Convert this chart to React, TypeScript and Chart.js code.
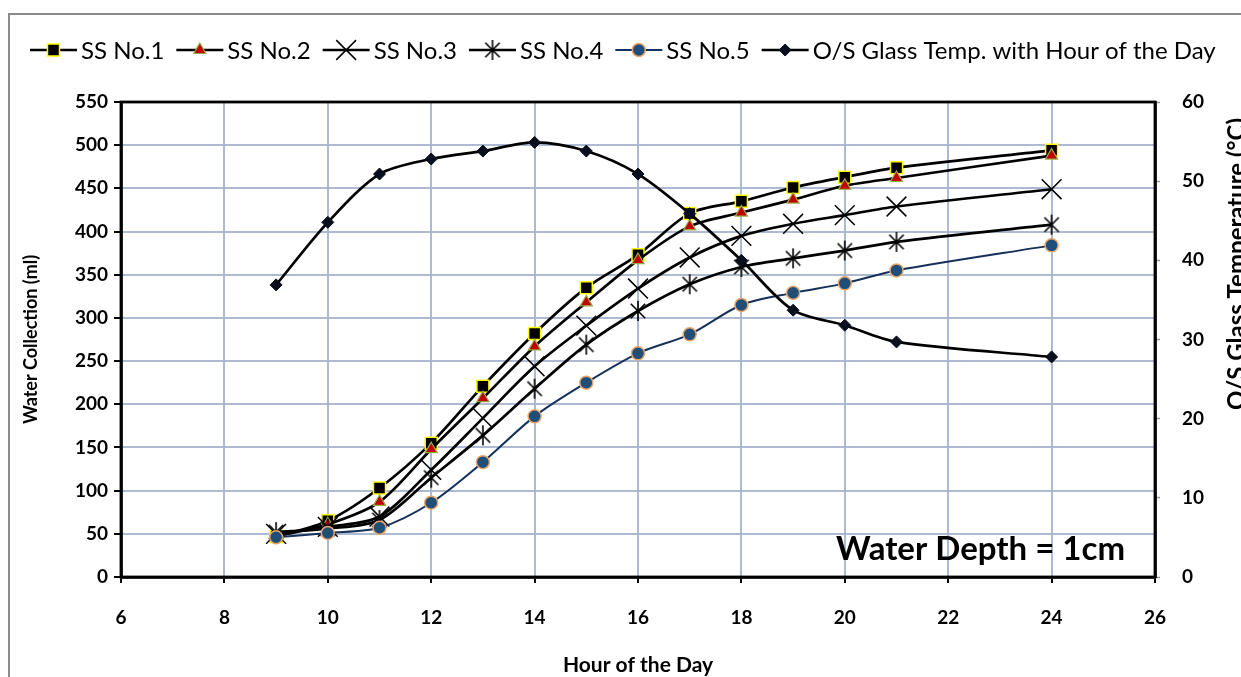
import React, { useEffect, useRef } from "react";
import { Chart, registerables } from "chart.js";
import { drawPoint } from "chart.js/helpers";

Chart.register(...registerables);

// Hour of the day at which each reading was taken
const hours = [9, 10, 11, 12, 13, 14, 15, 16, 17, 18, 19, 20, 21, 24];

// Cumulative water collected by each still (ml)
const ssNo1 = [47, 65, 103, 155, 221, 282, 335, 373, 421, 435, 451, 463, 474, 494];
const ssNo2 = [47, 61, 87, 148, 207, 267, 318, 367, 406, 422, 437, 453, 462, 488];
const ssNo3 = [50, 58, 70, 124, 184, 244, 291, 334, 370, 395, 409, 419, 429, 449];
const ssNo4 = [52, 56, 66, 115, 164, 218, 269, 308, 339, 359, 369, 378, 388, 408];
const ssNo5 = [46, 51, 57, 86, 133, 186, 225, 259, 281, 315, 329, 340, 355, 384];

// Outside glass temperature (°C)
const glassTemp = [36.9, 44.8, 50.9, 52.8, 53.8, 54.9, 53.8, 50.9, 45.9, 40.0, 33.7, 31.8, 29.7, 27.8];

const seriesLabels = [
  "SS No.1",
  "SS No.2",
  "SS No.3",
  "SS No.4",
  "SS No.5",
  "O/S Glass Temp. with Hour of the Day",
];

const hourRange = [6, 26, 2];
const waterRange = [0, 550, 50];
const tempRange = [0, 60, 10];

const xTitle = "Hour of the Day";
const yTitle = "Water Collection (ml)";
const y2Title = "O/S Glass Temperature (°C)";
const noteText = "Water Depth = 1cm";

const FONT = "Lato, 'Open Sans', sans-serif";
const GRID = "rgba(165,178,204,0.9)";

// Excel-style "star" marker: an X with a vertical stroke
function asteriskMarker(size: number): HTMLCanvasElement {
  const c = document.createElement("canvas");
  c.width = size;
  c.height = size;
  const g = c.getContext("2d")!;
  g.strokeStyle = "#000";
  g.lineWidth = 1.6;
  const m = size / 2;
  const r = size / 2 - 1;
  const d = r * 0.72;
  g.beginPath();
  g.moveTo(m - d, m - d);
  g.lineTo(m + d, m + d);
  g.moveTo(m + d, m - d);
  g.lineTo(m - d, m + d);
  g.moveTo(m, m - r);
  g.lineTo(m, m + r);
  g.stroke();
  return c;
}

type Marker = {
  pointStyle: any;
  radius: number;
  fill: string;
  stroke: string;
  borderWidth: number;
  line: string;
  lineWidth: number;
};

function makeMarkers(): Marker[] {
  return [
    { pointStyle: "rect", radius: 8.5, fill: "#000", stroke: "#ffff00", borderWidth: 1.5, line: "#000", lineWidth: 2.7 },
    { pointStyle: "triangle", radius: 7, fill: "#c00000", stroke: "#9bab4a", borderWidth: 1.2, line: "#000", lineWidth: 2.7 },
    { pointStyle: "crossRot", radius: 14, fill: "#000", stroke: "#000", borderWidth: 1.5, line: "#000", lineWidth: 2.7 },
    { pointStyle: asteriskMarker(22), radius: 10, fill: "#000", stroke: "#000", borderWidth: 1.5, line: "#000", lineWidth: 2.7 },
    { pointStyle: "circle", radius: 6.5, fill: "#1f4e79", stroke: "#e8a46a", borderWidth: 1.5, line: "#15305a", lineWidth: 2 },
    { pointStyle: "rectRot", radius: 6, fill: "#0a0f1e", stroke: "#0a0f1e", borderWidth: 1, line: "#000", lineWidth: 2.7 },
  ];
}

export default function App() {
  const canvasRef = useRef<HTMLCanvasElement | null>(null);

  useEffect(() => {
    const canvas = canvasRef.current;
    if (!canvas) return;
    const markers = makeMarkers();
    const waterSeries = [ssNo1, ssNo2, ssNo3, ssNo4, ssNo5];

    const datasets: any[] = waterSeries.map((vals, i) => {
      const m = markers[i];
      return {
        label: seriesLabels[i],
        data: hours.map((h, k) => ({ x: h, y: vals[k] })),
        yAxisID: "y",
        borderColor: m.line,
        borderWidth: m.lineWidth,
        tension: 0.3,
        pointStyle: m.pointStyle,
        pointRadius: m.radius,
        pointBackgroundColor: m.fill,
        pointBorderColor: m.stroke,
        pointBorderWidth: m.borderWidth,
        order: 6 - i,
      };
    });
    const tm = markers[5];
    datasets.push({
      label: seriesLabels[5],
      data: hours.map((h, k) => ({ x: h, y: glassTemp[k] })),
      yAxisID: "y1",
      borderColor: tm.line,
      borderWidth: tm.lineWidth,
      tension: 0.3,
      pointStyle: tm.pointStyle,
      pointRadius: tm.radius,
      pointBackgroundColor: tm.fill,
      pointBorderColor: tm.stroke,
      pointBorderWidth: tm.borderWidth,
      order: 0,
    });

    const decorations = {
      id: "decorations",
      beforeDraw(chart: any) {
        const ctx = chart.ctx;
        ctx.save();
        ctx.fillStyle = "#fff";
        ctx.fillRect(0, 0, chart.width, chart.height);
        ctx.restore();
      },
      afterDatasetsDraw(chart: any) {
        const ctx = chart.ctx as CanvasRenderingContext2D;
        const a = chart.chartArea;
        ctx.save();
        // plot frame
        ctx.strokeStyle = "#000";
        ctx.lineWidth = 2.8;
        ctx.strokeRect(a.left, a.top, a.right - a.left, a.bottom - a.top);

        // note inside the plot
        ctx.fillStyle = "#000";
        ctx.font = `bold 33px ${FONT}`;
        ctx.textAlign = "left";
        ctx.textBaseline = "alphabetic";
        ctx.fillText(noteText, 836, 560);

        // axis titles
        ctx.font = `bold 21px ${FONT}`;
        ctx.textAlign = "center";
        ctx.textBaseline = "middle";
        ctx.fillText(xTitle, 638, 665);

        ctx.save();
        ctx.translate(31, (a.top + a.bottom) / 2);
        ctx.rotate(-Math.PI / 2);
        ctx.font = `bold 18px ${FONT}`;
        ctx.fillText(yTitle, 0, 0);
        ctx.restore();

        ctx.save();
        ctx.translate(1245, 264);
        ctx.rotate(-Math.PI / 2);
        ctx.font = `bold 24px ${FONT}`;
        ctx.textBaseline = "alphabetic";
        ctx.fillText(y2Title, 0, 0);
        ctx.restore();

        // legend: short line with the series marker, then the name
        ctx.font = `24px ${FONT}`;
        ctx.textAlign = "left";
        ctx.textBaseline = "middle";
        const ly = 50;
        let x = 30;
        markers.forEach((m, i) => {
          ctx.strokeStyle = m.line;
          ctx.lineWidth = m.lineWidth;
          ctx.beginPath();
          ctx.moveTo(x, ly);
          ctx.lineTo(x + 47, ly);
          ctx.stroke();
          ctx.fillStyle = m.fill;
          ctx.strokeStyle = m.stroke;
          ctx.lineWidth = m.borderWidth;
          drawPoint(ctx, { pointStyle: m.pointStyle, radius: m.radius, rotation: 0, borderWidth: m.borderWidth } as any, x + 23.5, ly);
          ctx.fillStyle = "#000";
          ctx.fillText(seriesLabels[i], x + 51, ly + 1);
          x += 51 + ctx.measureText(seriesLabels[i]).width + 12;
        });

        // outer chart frame
        ctx.strokeStyle = "#8a8a8a";
        ctx.lineWidth = 2;
        ctx.beginPath();
        ctx.moveTo(9, chart.height);
        ctx.lineTo(9, 14);
        ctx.lineTo(chart.width, 14);
        ctx.stroke();
        ctx.restore();
      },
    };

    const tickFont = { family: FONT, size: 19, weight: "bold" as const };

    const chart = new Chart(canvas, {
      type: "line",
      data: { datasets },
      options: {
        responsive: false,
        animation: false,
        layout: { padding: { top: 102, left: 0, right: 0, bottom: 0 } },
        plugins: { legend: { display: false }, tooltip: { enabled: false } },
        scales: {
          x: {
            type: "linear",
            min: hourRange[0],
            max: hourRange[1],
            ticks: { stepSize: hourRange[2], font: tickFont, color: "#000", padding: 23 },
            grid: { color: GRID, lineWidth: 2, tickColor: "#000", tickLength: 6, tickWidth: 2 },
            border: { color: "#000", width: 2.8 },
            afterFit: (s: any) => {
              s.height = 100;
            },
          },
          y: {
            position: "left",
            min: waterRange[0],
            max: waterRange[1],
            ticks: { stepSize: waterRange[2], font: tickFont, color: "#000", padding: 6 },
            grid: { color: GRID, lineWidth: 2, tickColor: "#000", tickLength: 7, tickWidth: 2 },
            border: { color: "#000", width: 2.8 },
            afterFit: (s: any) => {
              s.width = 121;
            },
          },
          y1: {
            position: "right",
            min: tempRange[0],
            max: tempRange[1],
            ticks: { stepSize: tempRange[2], font: tickFont, color: "#000", padding: 22 },
            grid: { drawOnChartArea: false, tickColor: "#999", tickLength: 5, tickWidth: 1.5 },
            border: { color: "#000", width: 2.8 },
            afterFit: (s: any) => {
              s.width = 86;
            },
          },
        },
      },
      plugins: [decorations],
    });

    return () => chart.destroy();
  }, []);

  return (
    <div style={{ position: "absolute", left: 0, top: 0, width: 1241, height: 677, background: "#fff" }}>
      <canvas ref={canvasRef} width={1241} height={677} style={{ display: "block" }} />
    </div>
  );
}
